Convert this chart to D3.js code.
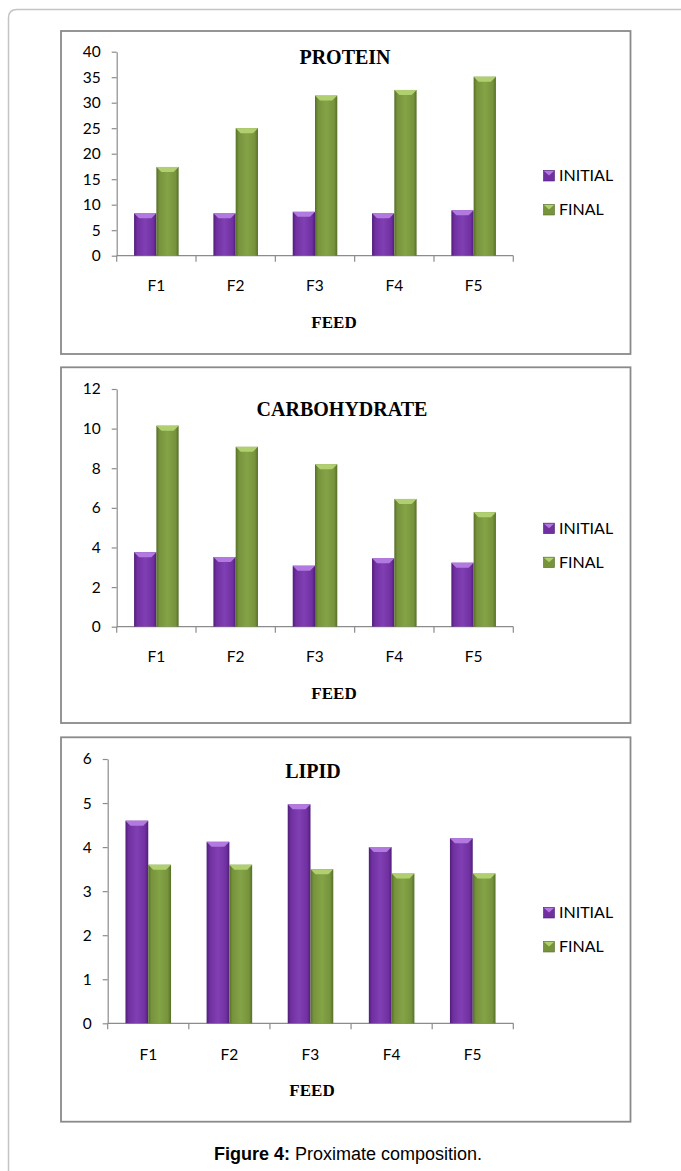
<!DOCTYPE html>
<html>
<head>
<meta charset="utf-8">
<script src="https://cdn.jsdelivr.net/npm/d3@7"></script>
<style>
  html, body { margin: 0; padding: 0; background: #ffffff; }
  svg { display: block; }
</style>
</head>
<body>
<svg id="chart" width="681" height="1171"></svg>
<script>
// ---------------- DATA ----------------
const categories = ["F1", "F2", "F3", "F4", "F5"];
const seriesNames = ["INITIAL", "FINAL"];

const proteinInitial = [8.3, 8.3, 8.6, 8.3, 8.9];
const proteinFinal   = [17.4, 25.0, 31.4, 32.5, 35.1];

const carbInitial = [3.76, 3.52, 3.08, 3.45, 3.23];
const carbFinal   = [10.15, 9.08, 8.2, 6.45, 5.78];

const lipidInitial = [4.6, 4.12, 4.97, 4.0, 4.2];
const lipidFinal   = [3.6, 3.6, 3.5, 3.4, 3.4];

const proteinTicks = [0, 5, 10, 15, 20, 25, 30, 35, 40];
const carbTicks    = [0, 2, 4, 6, 8, 10, 12];
const lipidTicks   = [0, 1, 2, 3, 4, 5, 6];

const xTitle = "FEED";
const captionBold = "Figure 4:";
const captionText = " Proximate composition.";

// ---------------- LAYOUT ----------------
const panels = [
  { title: "PROTEIN", initial: proteinInitial, final: proteinFinal, ticks: proteinTicks,
    box: [61, 31, 630.5, 354], plotX: [116.7, 513.3], plotY: [255.7, 51.7],
    titleX: 345, titleY: 64, feedX: 334 },
  { title: "CARBOHYDRATE", initial: carbInitial, final: carbFinal, ticks: carbTicks,
    box: [61, 367.3, 630.5, 723], plotX: [116.7, 513.3], plotY: [626.7, 389],
    titleX: 342, titleY: 416, feedX: 334 },
  { title: "LIPID", initial: lipidInitial, final: lipidFinal, ticks: lipidTicks,
    box: [61, 737.3, 630.5, 1121.7], plotX: [107.7, 513.3], plotY: [1023.3, 759],
    titleX: 313, titleY: 778, feedX: 312 }
];

const colors = {
  INITIAL: { base: "#7030a0", dark: "#4f1d78", light: "#8040b4", bevel: "#b27ae0" },
  FINAL:   { base: "#77933c", dark: "#566f28", light: "#84a346", bevel: "#b0d070" }
};

const svg = d3.select("#chart");
const defs = svg.append("defs");

seriesNames.forEach(s => {
  const c = colors[s];
  const g = defs.append("linearGradient").attr("id", "grad-" + s)
    .attr("x1", "0%").attr("x2", "100%").attr("y1", "0%").attr("y2", "0%");
  g.append("stop").attr("offset", "0%").attr("stop-color", c.dark);
  g.append("stop").attr("offset", "14%").attr("stop-color", c.base);
  g.append("stop").attr("offset", "50%").attr("stop-color", c.light);
  g.append("stop").attr("offset", "86%").attr("stop-color", c.base);
  g.append("stop").attr("offset", "100%").attr("stop-color", c.dark);
});

// outer frame (rounded top-left corner)
svg.append("path")
  .attr("d", "M8.5,1171 L8.5,18 Q8.5,9.5 17,9.5 L681,9.5")
  .attr("fill", "none").attr("stroke", "#c4c4c4").attr("stroke-width", 1.5);

panels.forEach(p => {
  const g = svg.append("g");
  const [bx0, by0, bx1, by1] = p.box;

  // panel border
  g.append("rect")
    .attr("x", bx0).attr("y", by0).attr("width", bx1 - bx0).attr("height", by1 - by0)
    .attr("fill", "#ffffff").attr("stroke", "#8a8a8a").attr("stroke-width", 1.8);

  const x = d3.scaleBand().domain(categories).range(p.plotX).padding(0);
  const xs = d3.scaleBand().domain(seriesNames).range([0, x.bandwidth()])
    .paddingInner(0).paddingOuter(0.78);
  const y = d3.scaleLinear().domain([0, d3.max(p.ticks)]).range(p.plotY);

  // y axis
  const yAxis = g.append("g").attr("transform", `translate(${p.plotX[0]},0)`)
    .call(d3.axisLeft(y).tickValues(p.ticks).tickFormat(d3.format("d"))
      .tickSize(5).tickSizeOuter(0).tickPadding(11));
  yAxis.select(".domain").attr("stroke", "#8c8c8c").attr("stroke-width", 1.2);
  yAxis.selectAll(".tick line").attr("stroke", "#8c8c8c").attr("stroke-width", 1.2);
  yAxis.selectAll(".tick text")
    .attr("fill", "#000").style("font-family", "Lato, 'Open Sans', sans-serif").style("font-size", "15.5px");

  // x axis
  const y0 = y(0);
  g.append("line").attr("x1", p.plotX[0]).attr("x2", p.plotX[1]).attr("y1", y0).attr("y2", y0)
    .attr("stroke", "#8c8c8c").attr("stroke-width", 1.2);
  const boundaries = categories.map(c => x(c)).concat([x(categories[categories.length - 1]) + x.bandwidth()]);
  g.selectAll(".xtick").data(boundaries).join("line")
    .attr("x1", d => d).attr("x2", d => d).attr("y1", y0).attr("y2", y0 + 6)
    .attr("stroke", "#8c8c8c").attr("stroke-width", 1.2);

  const labelOffset = p.title === "LIPID" ? 37 : 35;
  g.selectAll(".xlab").data(categories).join("text")
    .attr("x", d => x(d) + x.bandwidth() / 2).attr("y", y0 + labelOffset)
    .attr("text-anchor", "middle")
    .style("font-family", "Lato, 'Open Sans', sans-serif").style("font-size", "15.5px")
    .text(d => d);

  // bars
  const data = [];
  categories.forEach((c, i) => {
    data.push({ cat: c, s: "INITIAL", v: p.initial[i] });
    data.push({ cat: c, s: "FINAL", v: p.final[i] });
  });

  const bars = g.selectAll(".bar").data(data).join("g");
  bars.append("rect")
    .attr("x", d => x(d.cat) + xs(d.s))
    .attr("y", d => y(d.v))
    .attr("width", xs.bandwidth())
    .attr("height", d => y0 - y(d.v))
    .attr("fill", d => `url(#grad-${d.s})`);
  bars.append("path")
    .attr("d", d => {
      const bx = x(d.cat) + xs(d.s), w = xs.bandwidth(), by = y(d.v);
      return `M${bx},${by} L${bx + w},${by} L${bx + w - 5},${by + 5} L${bx + 5},${by + 5} Z`;
    })
    .attr("fill", d => colors[d.s].bevel);

  // title
  g.append("text").attr("x", p.titleX).attr("y", p.titleY).attr("text-anchor", "middle")
    .style("font-family", "'Liberation Serif', 'Times New Roman', serif")
    .style("font-weight", "bold").style("font-size", "20px")
    .text(p.title);

  // x title
  g.append("text").attr("x", p.feedX).attr("y", y0 + 72.5).attr("text-anchor", "middle")
    .style("font-family", "'Liberation Serif', 'Times New Roman', serif")
    .style("font-weight", "bold").style("font-size", "17px")
    .text(xTitle);

  // legend
  const cy = (by0 + by1) / 2;
  const leg = g.selectAll(".leg").data(seriesNames).join("g")
    .attr("transform", (d, i) => `translate(543.5, ${cy - 22 + i * 34})`);
  leg.append("rect").attr("width", 11).attr("height", 10.5)
    .attr("fill", d => colors[d].base).attr("stroke", d => colors[d].dark).attr("stroke-width", 0.6);
  leg.append("path").attr("d", "M0.5,0.5 L10.5,0.5 L5.5,5 Z").attr("fill", d => colors[d].bevel);
  leg.append("text").attr("x", 15.5).attr("y", 10.5)
    .style("font-family", "Lato, 'Open Sans', sans-serif").style("font-size", "16px")
    .text(d => d);
});

// caption
const cap = svg.append("text").attr("x", 348).attr("y", 1160).attr("text-anchor", "middle")
  .style("font-family", "'Liberation Sans', Arial, sans-serif").style("font-size", "18px");
cap.append("tspan").style("font-weight", "bold").text(captionBold);
cap.append("tspan").text(captionText);
</script>
</body>
</html>
